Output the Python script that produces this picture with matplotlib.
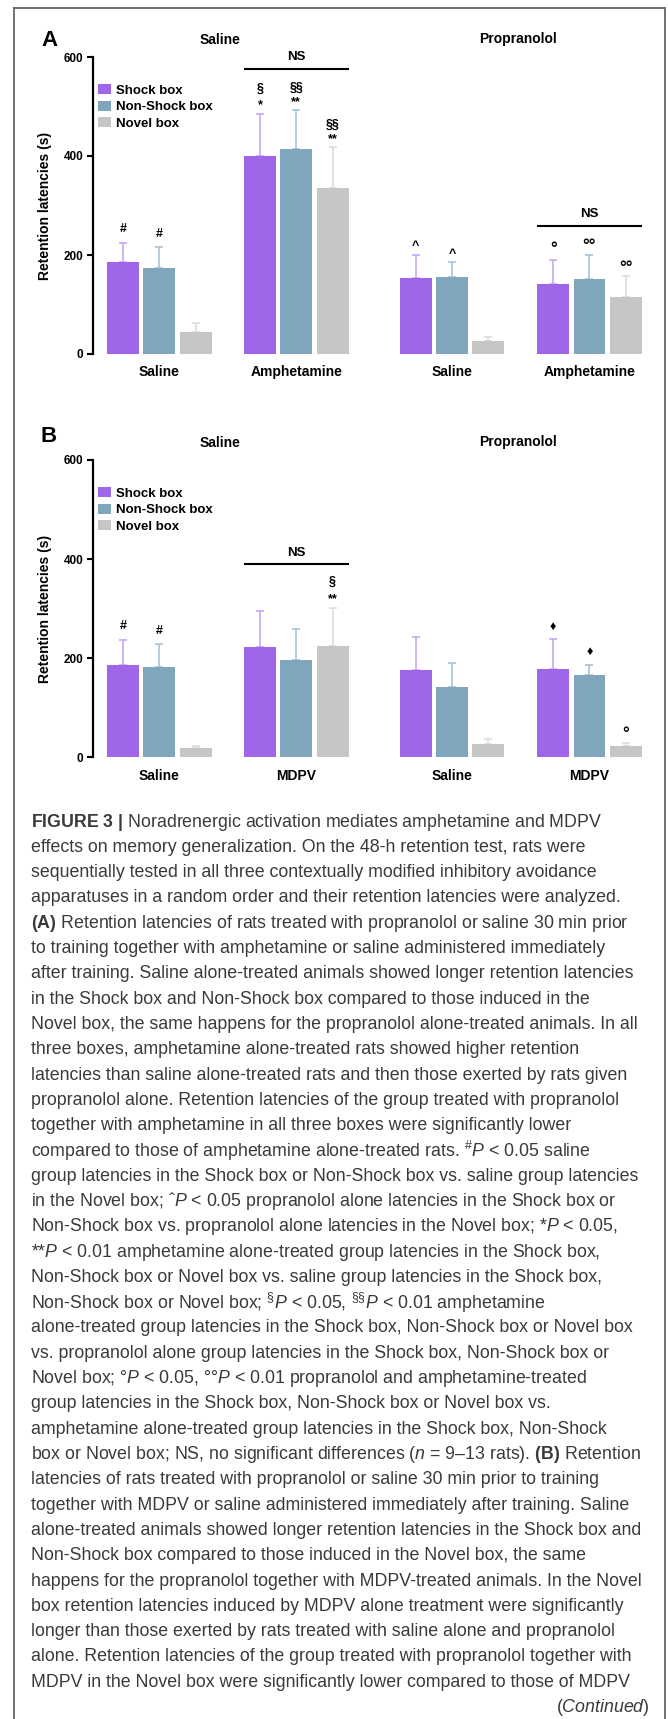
import matplotlib
matplotlib.use('Agg')
import matplotlib.pyplot as plt
import numpy as np
from matplotlib.lines import Line2D

plt.rcParams['font.family'] = ['Liberation Sans', 'DejaVu Sans']
plt.rcParams['mathtext.fontset'] = 'custom'
plt.rcParams['mathtext.rm'] = 'Liberation Sans'
plt.rcParams['mathtext.it'] = 'Liberation Sans:italic'
plt.rcParams['mathtext.bf'] = 'Liberation Sans:bold'

# ---- data ----
boxes = ['Shock box', 'Non-Shock box', 'Novel box']
groups_A = ['Saline', 'Amphetamine', 'Saline', 'Amphetamine']
groups_B = ['Saline', 'MDPV', 'Saline', 'MDPV']

A_shock = [186, 400, 153, 141]
A_nonshock = [174, 414, 155, 151]
A_novel = [44, 336, 26, 116]
A_shock_err = [38, 84, 48, 49]
A_nonshock_err = [43, 79, 31, 48]
A_novel_err = [18, 83, 9, 41]

B_shock = [187, 222, 177, 179]
B_nonshock = [183, 196, 143, 167]
B_novel = [19.5, 224, 28, 24]
B_shock_err = [50, 74, 67, 60]
B_nonshock_err = [45, 63, 48, 19]
B_novel_err = [4.5, 78, 10, 6]

# (group, box, y, text)
A_marks = [(0, 0, 252, '#'), (0, 1, 243, '#'),
           (1, 0, 536, '§'), (1, 0, 502, '*'), (1, 1, 537, '§§'), (1, 1, 509, '**'),
           (1, 2, 462, '§§'), (1, 2, 434, '**'),
           (2, 0, 219, '^'), (2, 1, 202, '^'),
           (3, 0, 212, 'o'), (3, 1, 218, 'oo'), (3, 2, 173, 'oo')]
B_marks = [(0, 0, 265, '#'), (0, 1, 256, '#'),
           (1, 2, 355, '§'), (1, 2, 319, '**'),
           (3, 0, 264, '♦'), (3, 1, 214, '♦'), (3, 2, 46, 'o')]
# (first group, y line, y text)
A_ns = [(1, 576, 600), (3, 258, 282)]
B_ns = [(1, 390, 413)]

colors = ['#a066ea', '#80a6bd', '#c6c6c6']
err_colors = ['#c8a8f2', '#aac4d4', '#dcdcdc']

W, H = 668, 1719
fig = plt.figure(figsize=(W / 100, H / 100), dpi=100)

def fx(px):
    return px / W

def fy(py):
    return 1 - py / H

centers = np.array([0, 3.77, 8.06, 11.85])
offs = [-1, 0, 1]
bw = 0.88


def panel(top, bottom, means, errs, labels, marks, ns):
    ax = fig.add_axes([fx(93), fy(bottom), 560 / W, (bottom - top) / H])
    handles = []
    for i in range(3):
        x = centers + offs[i]
        b = ax.bar(x, means[i], bw, color=colors[i], edgecolor='none', label=boxes[i], zorder=2)
        handles.append(b)
        ax.errorbar(x, means[i], yerr=[np.zeros(4), errs[i]], fmt='none',
                    ecolor=err_colors[i], elinewidth=1.2, capsize=2.8, capthick=1.2, zorder=1)
    for g, k, y, t in marks:
        fs = 9
        if t.startswith('o'):
            t = '°' * len(t)
            fs = 12
        ax.text(centers[g] + offs[k], y, t, ha='center', va='center', fontsize=fs,
                fontweight='bold', clip_on=False)
    for g, yl, yt in ns:
        ax.plot([centers[g] - 1.45, centers[g] + 1.45], [yl, yl], color='black', lw=1.5,
                clip_on=False, solid_capstyle='butt')
        ax.text(centers[g], yt, 'NS', ha='center', va='center', fontsize=9.5, fontweight='bold')
    ax.set_xlim(-1.83, 13.6)
    ax.set_ylim(0, 600)
    ax.set_yticks([0, 200, 400, 600])
    ax.set_xticks(centers)
    ax.set_xticklabels(labels, fontsize=10, fontweight='bold')
    for lab in ax.get_yticklabels():
        lab.set_fontweight('bold')
        lab.set_fontsize(8.5)
    ax.tick_params(axis='x', length=0, pad=8)
    ax.tick_params(axis='y', length=4, width=1.5, pad=3)
    for s in ['top', 'right', 'bottom']:
        ax.spines[s].set_visible(False)
    ax.spines['left'].set_linewidth(1.6)
    ax.set_ylabel('Retention latencies (s)', fontsize=10, fontweight='bold', labelpad=8)
    ax.legend(handles=handles, loc='upper left', bbox_to_anchor=(fx(98), fy(top + 27)),
              bbox_transform=fig.transFigure, frameon=False,
              prop={'weight': 'bold', 'size': 9.5}, handlelength=1.0, handleheight=0.8,
              handletextpad=0.4, labelspacing=0.3, borderpad=0, borderaxespad=0)
    return ax


panel(57, 354, [A_shock, A_nonshock, A_novel], [A_shock_err, A_nonshock_err, A_novel_err],
      groups_A, A_marks, A_ns)
panel(460, 757.5, [B_shock, B_nonshock, B_novel], [B_shock_err, B_nonshock_err, B_novel_err],
      groups_B, B_marks, B_ns)

for letter, yy, yt in [('A', 40, 40.5), ('B', 437, 443)]:
    fig.text(fx(49), fy(yy), letter, fontsize=16, fontweight='bold', ha='center', va='center')
    fig.text(fx(220), fy(yt), 'Saline', fontsize=10, fontweight='bold', ha='center', va='center')
    fig.text(fx(518), fy(yt - 1), 'Propranolol', fontsize=10, fontweight='bold', ha='center', va='center')

# border
bc = '#666666'
fig.add_artist(Line2D([fx(14), fx(14)], [fy(8), 0], color=bc, lw=1.3))
fig.add_artist(Line2D([fx(14), fx(665)], [fy(8), fy(8)], color=bc, lw=1.3))
fig.add_artist(Line2D([fx(665), fx(665)], [fy(8), 0], color=bc, lw=1.3))

caption = [
    r'$\mathbf{FIGURE\ 3\ |}$ Noradrenergic activation mediates amphetamine and MDPV',
    'effects on memory generalization. On the 48-h retention test, rats were',
    'sequentially tested in all three contextually modified inhibitory avoidance',
    'apparatuses in a random order and their retention latencies were analyzed.',
    r'$\mathbf{(A)}$ Retention latencies of rats treated with propranolol or saline 30 min prior',
    'to training together with amphetamine or saline administered immediately',
    'after training. Saline alone-treated animals showed longer retention latencies',
    'in the Shock box and Non-Shock box compared to those induced in the',
    'Novel box, the same happens for the propranolol alone-treated animals. In all',
    'three boxes, amphetamine alone-treated rats showed higher retention',
    'latencies than saline alone-treated rats and then those exerted by rats given',
    'propranolol alone. Retention latencies of the group treated with propranolol',
    'together with amphetamine in all three boxes were significantly lower',
    r'compared to those of amphetamine alone-treated rats. $^{\#}\it{P}$ < 0.05 saline',
    'group latencies in the Shock box or Non-Shock box vs. saline group latencies',
    r'in the Novel box; ˆ$\it{P}$ < 0.05 propranolol alone latencies in the Shock box or',
    r'Non-Shock box vs. propranolol alone latencies in the Novel box; *$\it{P}$ < 0.05,',
    r'**$\it{P}$ < 0.01 amphetamine alone-treated group latencies in the Shock box,',
    'Non-Shock box or Novel box vs. saline group latencies in the Shock box,',
    r'Non-Shock box or Novel box; $^{\S}\it{P}$ < 0.05, $^{\S\S}\it{P}$ < 0.01 amphetamine',
    'alone-treated group latencies in the Shock box, Non-Shock box or Novel box',
    'vs. propranolol alone group latencies in the Shock box, Non-Shock box or',
    r'Novel box; °$\it{P}$ < 0.05, °°$\it{P}$ < 0.01 propranolol and amphetamine-treated',
    'group latencies in the Shock box, Non-Shock box or Novel box vs.',
    'amphetamine alone-treated group latencies in the Shock box, Non-Shock',
    r'box or Novel box; NS, no significant differences ($\it{n}$ = 9–13 rats). $\mathbf{(B)}$ Retention',
    'latencies of rats treated with propranolol or saline 30 min prior to training',
    'together with MDPV or saline administered immediately after training. Saline',
    'alone-treated animals showed longer retention latencies in the Shock box and',
    'Non-Shock box compared to those induced in the Novel box, the same',
    'happens for the propranolol together with MDPV-treated animals. In the Novel',
    'box retention latencies induced by MDPV alone treatment were significantly',
    'longer than those exerted by rats treated with saline alone and propranolol',
    'alone. Retention latencies of the group treated with propranolol together with',
    'MDPV in the Novel box were significantly lower compared to those of MDPV',
]
for i, line in enumerate(caption):
    fig.text(fx(31), fy(822 + 25.3 * i), line, fontsize=12.8, color='#3a3a3a',
             ha='left', va='center')
fig.text(fx(650), fy(822 + 25.3 * len(caption)), r'($\it{Continued}$)', fontsize=12.8,
         color='#3a3a3a', ha='right', va='center')

fig.savefig('out.png', dpi=100)
